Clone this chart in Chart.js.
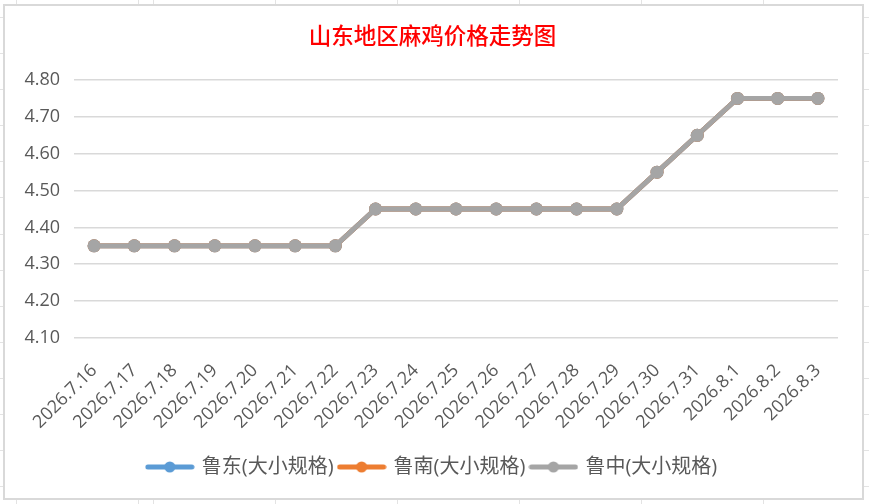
<!DOCTYPE html>
<html>
<head>
<meta charset="utf-8">
<script src="https://cdn.jsdelivr.net/npm/chart.js@4"></script>
<style>
    html, body { margin: 0; padding: 0; }
    body {
        width: 869px; height: 504px; position: relative; overflow: hidden;
        background-color: #fff;
        background-image:
            repeating-linear-gradient(to right, #e3e3e3 0, #e3e3e3 1px, transparent 1px, transparent 122px),
            repeating-linear-gradient(to bottom, #e3e3e3 0, #e3e3e3 1px, transparent 1px, transparent 36.1px);
        background-position: 153px 0, 0 17px;
    }
    #box {
        position: absolute; left: 3px; top: 4px;
        width: 857px; height: 492px;
        border: 2px solid #d9d9d9; background: #fff;
    }
</style>
</head>
<body>
<div id="box"><canvas id="priceChart" width="857" height="492"></canvas></div>
<script>
var labels = ['2026.7.16', '2026.7.17', '2026.7.18', '2026.7.19', '2026.7.20', '2026.7.21', '2026.7.22',
    '2026.7.23', '2026.7.24', '2026.7.25', '2026.7.26', '2026.7.27', '2026.7.28', '2026.7.29',
    '2026.7.30', '2026.7.31', '2026.8.1', '2026.8.2', '2026.8.3'];
var ludong = [4.35, 4.35, 4.35, 4.35, 4.35, 4.35, 4.35, 4.45, 4.45, 4.45, 4.45, 4.45, 4.45, 4.45, 4.55, 4.65, 4.75, 4.75, 4.75];
var lunan = [4.35, 4.35, 4.35, 4.35, 4.35, 4.35, 4.35, 4.45, 4.45, 4.45, 4.45, 4.45, 4.45, 4.45, 4.55, 4.65, 4.75, 4.75, 4.75];
var luzhong = [4.35, 4.35, 4.35, 4.35, 4.35, 4.35, 4.35, 4.45, 4.45, 4.45, 4.45, 4.45, 4.45, 4.45, 4.55, 4.65, 4.75, 4.75, 4.75];
var yTicks = [4.10, 4.20, 4.30, 4.40, 4.50, 4.60, 4.70, 4.80];

var textFont = "'Open Sans', 'Noto Sans CJK SC', sans-serif";

// small line+dot swatch for the legend, like the spreadsheet legend
function legendSwatch(color) {
    var c = document.createElement('canvas');
    c.width = 50; c.height = 14;
    var g = c.getContext('2d');
    g.strokeStyle = color; g.lineWidth = 5; g.lineCap = 'round';
    g.beginPath(); g.moveTo(3, 7); g.lineTo(47, 7); g.stroke();
    g.fillStyle = color;
    g.beginPath(); g.arc(25, 7, 5.5, 0, Math.PI * 2); g.fill();
    return c;
}

function series(name, values, color, order) {
    return {
        label: name,
        data: values,
        borderColor: color,
        backgroundColor: color,
        borderWidth: 4.8,
        pointRadius: 6.5,
        pointHoverRadius: 6.5,
        pointBorderWidth: 0,
        tension: 0,
        order: order,
        swatch: legendSwatch(color)
    };
}

// title and legend sit a little right of the canvas centre in the original
var shiftBoxes = {
    id: 'shiftBoxes',
    afterLayout: function (chart) {
        [chart.titleBlock, chart.legend].forEach(function (b) {
            if (b) { b.left += 11; b.right += 11; }
        });
    }
};

var ctx = document.getElementById('priceChart').getContext('2d');
var priceChart = new Chart(ctx, {
    type: 'line',
    data: {
        labels: labels,
        datasets: [
            series('鲁东(大小规格)', ludong, '#5B9BD5', 2),
            series('鲁南(大小规格)', lunan, '#ED7D31', 1),
            series('鲁中(大小规格)', luzhong, '#A5A5A5', 0)
        ]
    },
    options: {
        responsive: false,
        animation: false,
        layout: { padding: { left: 0, right: 24, top: 0, bottom: 11 } },
        plugins: {
            title: {
                display: true,
                text: '山东地区麻鸡价格走势图',
                color: '#FF0000',
                font: { family: "'Noto Sans CJK SC', sans-serif", size: 22.5, weight: 500 },
                padding: { top: 16, bottom: 31 }
            },
            legend: {
                position: 'bottom',
                labels: {
                    color: '#595959',
                    font: { family: textFont, size: 20 },
                    usePointStyle: true,
                    pointStyleWidth: 44,
                    padding: 6,
                    generateLabels: function (chart) {
                        return chart.data.datasets.map(function (ds, i) {
                            return {
                                text: ds.label,
                                fillStyle: ds.borderColor,
                                strokeStyle: ds.borderColor,
                                pointStyle: ds.swatch,
                                fontColor: '#595959',
                                hidden: !chart.isDatasetVisible(i),
                                lineWidth: 0,
                                datasetIndex: i
                            };
                        });
                    }
                }
            },
            tooltip: { enabled: false }
        },
        scales: {
            x: {
                offset: true,
                grid: { display: false, drawTicks: false },
                border: { display: false },
                ticks: {
                    color: '#595959',
                    font: { family: textFont, size: 18 },
                    maxRotation: 45,
                    minRotation: 45,
                    autoSkip: false,
                    padding: 22
                },
                afterFit: function (scale) { scale.height = 113; }
            },
            y: {
                min: 4.10,
                max: 4.80,
                afterBuildTicks: function (scale) {
                    scale.ticks = yTicks.map(function (v) { return { value: v }; });
                },
                grid: { color: '#d9d9d9', lineWidth: 1.6, drawTicks: false },
                border: { display: false },
                ticks: {
                    color: '#595959',
                    font: { family: textFont, size: 18 },
                    padding: 14,
                    callback: function (v) { return Number(v).toFixed(2); }
                },
                afterFit: function (scale) { scale.width = 69; }
            }
        }
    },
    plugins: [shiftBoxes]
});
</script>
</body>
</html>
